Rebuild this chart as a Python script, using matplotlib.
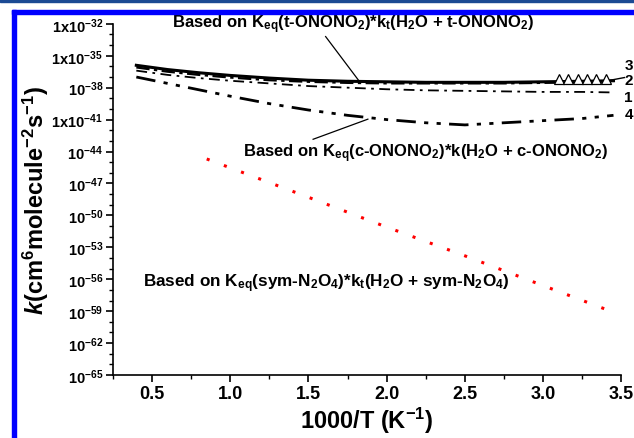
import numpy as np
import matplotlib
matplotlib.use("Agg")
import matplotlib.pyplot as plt
from matplotlib.patches import Rectangle
from matplotlib.ticker import FixedLocator, NullFormatter

plt.rcParams['font.family'] = ['Liberation Sans', 'DejaVu Sans']
plt.rcParams['font.weight'] = 'bold'
plt.rcParams['axes.labelweight'] = 'bold'
plt.rcParams['mathtext.fontset'] = 'custom'
plt.rcParams['mathtext.rm'] = 'Liberation Sans:bold'
plt.rcParams['mathtext.bf'] = 'Liberation Sans:bold'
plt.rcParams['mathtext.it'] = 'Liberation Sans:bold:italic'
plt.rcParams['mathtext.default'] = 'bf'

# data (log10 of k)
x_lines = [0.4, 0.6, 0.8, 1.0, 1.25, 1.5, 1.75, 2.0, 2.25, 2.5, 2.75, 3.0, 3.25, 3.45]
log_k3 = [-35.9, -36.3, -36.6, -36.85, -37.1, -37.3, -37.4, -37.45, -37.5, -37.5, -37.5, -37.45, -37.4, -37.35]
log_k2 = [-36.1, -36.5, -36.8, -37.05, -37.3, -37.45, -37.55, -37.6, -37.6, -37.6, -37.6, -37.55, -37.5, -37.4]
log_k1 = [-36.4, -36.8, -37.1, -37.35, -37.6, -37.85, -38.0, -38.15, -38.25, -38.3, -38.35, -38.4, -38.4, -38.45]
log_k4 = [-37.0, -37.6, -38.2, -38.8, -39.5, -40.1, -40.6, -41.0, -41.3, -41.5, -41.3, -41.1, -40.9, -40.6]

x_tri = [3.1, 3.16, 3.22, 3.28, 3.34, 3.40]
log_tri = [-37.2, -37.2, -37.2, -37.2, -37.2, -37.2]

x_sym = [0.85, 1.5, 2.0, 2.5, 3.0, 3.45]
log_sym = [-44.7, -48.3, -51.1, -53.8, -56.6, -59.1]

ytick_exp = list(range(-65, -31, 3))
ytick_labels = {-32: r'1x10$^{-32}$', -35: r'1x10$^{-35}$', -41: r'1x10$^{-41}$'}

fig = plt.figure(figsize=(6.34, 4.39), dpi=100)
ax = fig.add_axes([0.178, 0.1435, 0.802, 0.8])

def p(v):
    return 10.0 ** np.array(v)

ax.plot(x_lines, p(log_k3), color='black', lw=2.2, ls='-')
ax.plot(x_lines, p(log_k2), color='black', lw=1.6, ls=(0, (6, 2, 1.5, 2)))
ax.plot(x_lines, p(log_k1), color='black', lw=1.3, ls=(0, (6, 3, 1.5, 3)))
ax.plot(x_lines, p(log_k4), color='black', lw=2.0, ls=(0, (7, 3, 1.5, 3, 1.5, 3)))
ax.plot(x_tri, p(log_tri), ls='none', marker='^', mfc='white', mec='black', ms=6.5, mew=0.9)
ax.plot(x_sym, p(log_sym), color='red', lw=2.2, ls=(0, (1, 5)))

ax.set_yscale('log')
ax.set_xlim(0.25, 3.5)
ax.set_ylim(1e-65, 1e-32)

ax.yaxis.set_major_locator(FixedLocator([10.0 ** e for e in ytick_exp]))
ax.yaxis.set_minor_locator(FixedLocator([10.0 ** e for e in range(-65, -31)]))
ax.yaxis.set_minor_formatter(NullFormatter())
ax.set_yticklabels([ytick_labels.get(e, r'10$^{%d}$' % e) for e in ytick_exp], fontsize=10.5)
ax.set_xticks([0.5, 1.0, 1.5, 2.0, 2.5, 3.0, 3.5])
ax.set_xticklabels(['0.5', '1.0', '1.5', '2.0', '2.5', '3.0', '3.5'], fontsize=13)
ax.set_xticks(np.arange(0.25, 3.51, 0.25), minor=True)
ax.tick_params(which='major', direction='out', length=5, width=1.2, pad=2)
ax.tick_params(which='minor', direction='out', length=3, width=1.0)

for s in ['top', 'right']:
    ax.spines[s].set_visible(False)
for s in ['left', 'bottom']:
    ax.spines[s].set_linewidth(1.2)

ax.set_xlabel(r'1000/T (K$^{-1}$)', fontsize=17, fontweight='bold', labelpad=2)
ax.set_ylabel(r'$\it{k}$(cm$^6$molecule$^{-2}$s$^{-1}$)', fontsize=17, fontweight='bold', labelpad=0)

ax.text(0.63, 10 ** -32.0, r'Based on K$_{eq}$(t-ONONO$_2$)*k$_t$(H$_2$O + t-ONONO$_2$)',
        fontsize=12, ha='left', va='center', clip_on=False)
ax.text(1.08, 10 ** -44.1, r'Based on K$_{eq}$(c-ONONO$_2$)*k(H$_2$O + c-ONONO$_2$)',
        fontsize=12, ha='left', va='center')
ax.text(0.44, 10 ** -56.3, r'Based on K$_{eq}$(sym-N$_2$O$_4$)*k$_t$(H$_2$O + sym-N$_2$O$_4$)',
        fontsize=12.3, ha='left', va='center')
ax.plot([1.61, 1.82], p([-33.2, -37.3]), color='black', lw=0.9)
ax.plot([1.53, 1.88], p([-42.85, -40.96]), color='black', lw=0.9)

# curve numbers at the right end
num_y = {'3': -35.85, '2': -37.25, '1': -38.9, '4': -40.5}
for lab, yv in num_y.items():
    ax.text(3.52, 10 ** yv, lab, fontsize=11, ha='left', va='center', clip_on=False)
ax.plot([3.43, 3.52], p([-37.3, -37.05]), color='black', lw=1.0, clip_on=False)

# blue frame of the page
fig.patches.append(Rectangle((0, 1 - 3 / 439), 1, 3 / 439, transform=fig.transFigure,
                             color='#1b4a94', zorder=0))
fig.patches.append(Rectangle((12 / 634, 1 - 15 / 439), 1, 4 / 439, transform=fig.transFigure,
                             color='#0000ff', zorder=0))
fig.patches.append(Rectangle((12 / 634, 0), 4 / 634, 1 - 11 / 439, transform=fig.transFigure,
                             color='#0000ff', zorder=0))

fig.savefig('out.png', dpi=100)
